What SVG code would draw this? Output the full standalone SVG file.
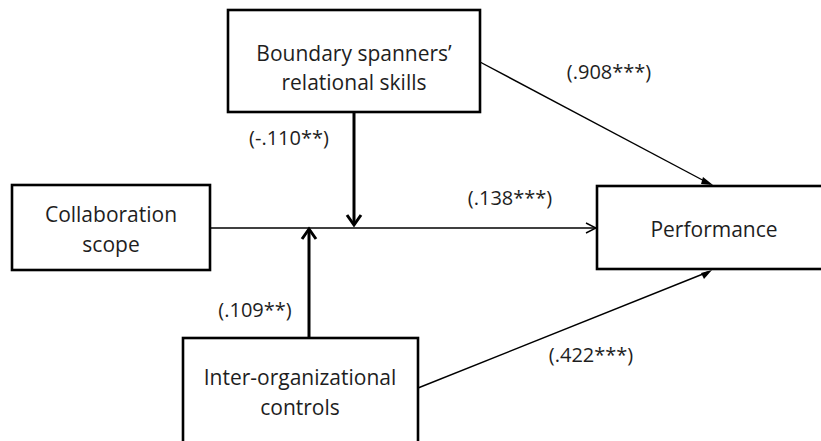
<svg xmlns="http://www.w3.org/2000/svg" width="821" height="441" viewBox="0 0 821 441">
<defs>
<style>
.box{fill:#fff;stroke:#000;stroke-width:2.6}
.t{font-family:"Open Sans","Noto Sans",sans-serif;font-size:21px;fill:#1e1e1e;text-anchor:middle}
.l{font-family:"Open Sans","Noto Sans",sans-serif;font-size:20px;fill:#1e1e1e;text-anchor:middle}
.thin{stroke:#000;stroke-width:1.4;fill:none}
.bold{stroke:#000;stroke-width:3;fill:none}
</style>
<marker id="open" viewBox="0 0 12 12" refX="11" refY="6" markerWidth="12" markerHeight="12" markerUnits="userSpaceOnUse" orient="auto">
<path d="M1,1 L11,6 L1,11" fill="none" stroke="#000" stroke-width="1.4"/>
</marker>
<marker id="filled" viewBox="0 0 10 10" refX="9" refY="5" markerWidth="10" markerHeight="10" markerUnits="userSpaceOnUse" orient="auto">
<path d="M0,1 L10,5 L0,9 Z" fill="#000"/>
</marker>
</defs>
<rect width="821" height="441" fill="#fff"/>
<g id="connectors">
<line class="thin" x1="210" y1="228" x2="596" y2="228" marker-end="url(#open)"/>
<line class="thin" x1="480" y1="62" x2="710" y2="184"/>
<path d="M703,177 L713,185 L701,184 Z" fill="#000"/>
<line class="thin" x1="418" y1="388" x2="708" y2="272"/>
<path d="M701,273 L712,270 L704,279 Z" fill="#000"/>
<line class="bold" x1="354" y1="112" x2="354" y2="224"/>
<path d="M347,215 L354,225 L361,215" class="bold"/>
<line class="bold" x1="309" y1="338" x2="309" y2="230"/>
<path d="M302,239 L309,229 L316,239" class="bold"/>
</g>
<g id="boundary">
<rect class="box" x="228" y="10" width="252" height="102"/>
<text class="t" x="354" y="61">Boundary spanners’</text>
<text class="t" x="354" y="90">relational skills</text>
</g>
<g id="collab">
<rect class="box" x="12" y="185" width="198" height="85"/>
<text class="t" x="111" y="222">Collaboration</text>
<text class="t" x="111" y="252">scope</text>
</g>
<g id="performance">
<rect class="box" x="597" y="186" width="240" height="83"/>
<text class="t" x="714" y="237">Performance</text>
</g>
<g id="interorg">
<rect class="box" x="183" y="338" width="235" height="120"/>
<text class="t" x="300" y="385">Inter-organizational</text>
<text class="t" x="300" y="415">controls</text>
</g>
<g id="labels">
<text class="l" x="609" y="79">(.908***)</text>
<text class="l" x="289" y="145">(-.110**)</text>
<text class="l" x="510" y="205">(.138***)</text>
<text class="l" x="255" y="317">(.109**)</text>
<text class="l" x="591" y="362">(.422***)</text>
</g>
</svg>
